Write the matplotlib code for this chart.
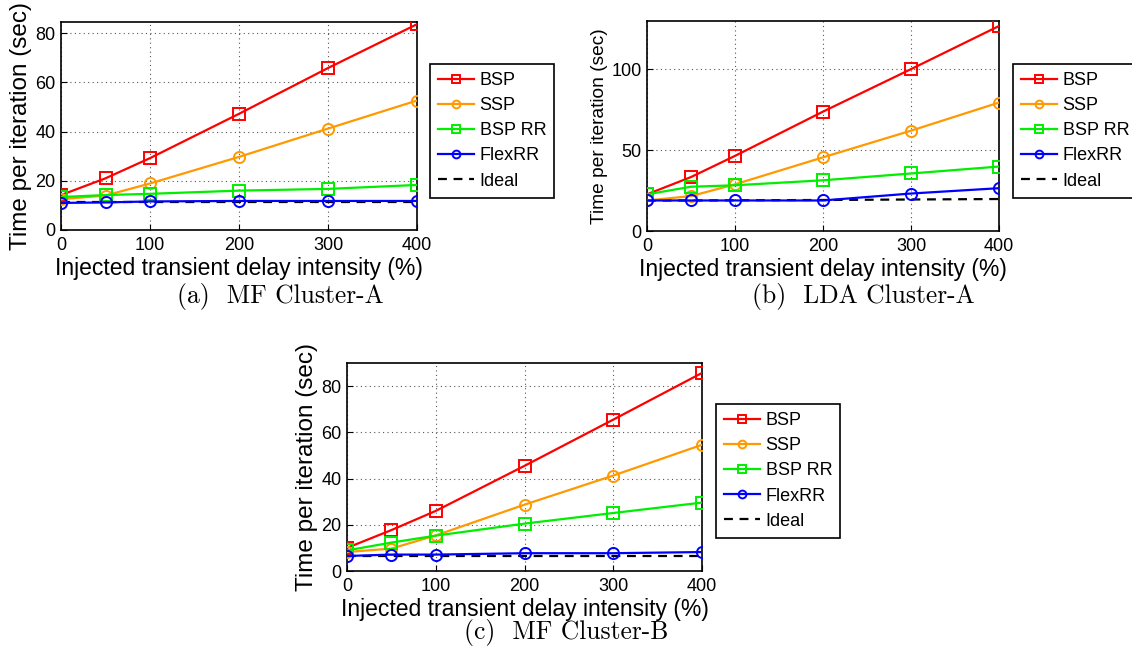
import numpy as np
import matplotlib.pyplot as plt

x = [0, 50, 100, 200, 300, 400]
names = ["BSP", "SSP", "BSP RR", "FlexRR", "Ideal"]

# (a) MF Cluster-A
a_bsp = [14.2, 21.0, 29.2, 47.2, 65.8, 83.6]
a_ssp = [12.5, 14.0, 18.9, 29.7, 41.2, 52.6]
a_bsprr = [13.4, 14.2, 14.7, 16.0, 16.7, 18.3]
a_flex = [11.0, 11.2, 11.6, 11.8, 11.8, 11.8]
a_ideal = [11.2, 11.2, 11.2, 11.2, 11.2, 11.2]

# (b) LDA Cluster-A
b_bsp = [22.7, 33.4, 46.5, 73.9, 100.2, 126.9]
b_ssp = [18.9, 21.6, 28.9, 45.6, 62.1, 79.5]
b_bsprr = [22.7, 27.4, 28.3, 31.4, 35.6, 39.9]
b_flex = [18.9, 18.9, 18.9, 18.9, 23.2, 26.5]
b_ideal = [18.9, 18.9, 19.0, 19.2, 19.5, 19.8]

# (c) MF Cluster-B
c_bsp = [10.0, 17.7, 26.0, 45.5, 65.5, 85.7]
c_ssp = [8.2, 9.7, 15.4, 28.7, 41.3, 54.6]
c_bsprr = [8.9, 12.3, 15.3, 20.5, 25.1, 29.6]
c_flex = [6.5, 7.1, 7.1, 7.7, 7.7, 8.2]
c_ideal = [6.6, 6.6, 6.6, 6.6, 6.6, 6.6]

colors = ["#ff0000", "#ff9900", "#00ee00", "#0000ff", "black"]
markers = ["s", "o", "s", "o", None]

plt.rcParams['font.family'] = ['Liberation Sans', 'DejaVu Sans']

fig = plt.figure(figsize=(11.32, 6.53), dpi=100)
W, H = 1132, 653


def panel(rect, series, ylim, yticks, ylab_size, legrect, caption, cap_xy):
    l, t, r, b = rect
    ax = fig.add_axes([l / W, 1 - b / H, (r - l) / W, (b - t) / H])
    for s, c, m, n in zip(series, colors, markers, names):
        if m is None:
            ax.plot(x, s, color=c, ls=(0, (4, 3)), lw=1.6, label=n, zorder=2)
        else:
            ax.plot(x, s, color=c, marker=m, mfc='none', mec=c, ms=8, mew=1.4,
                    lw=1.6, label=n, zorder=3)
    ax.set_xlim(0, 400)
    ax.set_ylim(*ylim)
    ax.set_xticks([0, 100, 200, 300, 400])
    ax.set_yticks(yticks)
    ax.tick_params(labelsize=13, direction='in', length=4)
    ax.tick_params(axis='x', pad=5)
    ax.tick_params(axis='y', pad=4)
    ax.grid(True, color='#555555', ls=(0, (1, 3)), lw=0.8)
    ax.set_xlabel("Injected transient delay intensity (%)", fontsize=16.5, labelpad=2)
    ax.set_ylabel("Time per iteration (sec)", fontsize=ylab_size, labelpad=2)
    for sp in ax.spines.values():
        sp.set_linewidth(1.2)
    ll, lt, lr, lb = legrect
    leg = ax.legend(loc='upper left', bbox_to_anchor=((ll - l) / (r - l), (b - lt) / (b - t)),
                    fontsize=13, frameon=True, fancybox=False, edgecolor='black',
                    framealpha=1, borderaxespad=0, markerscale=0.7, handlelength=2.0,
                    handletextpad=0.3, labelspacing=0.45, borderpad=0.45)
    leg.get_frame().set_linewidth(1.2)
    fig.text(cap_xy[0] / W, 1 - cap_xy[1] / H, caption, family='cmr10', fontsize=18.4,
             ha='center', va='center')
    return ax


panel((61, 22, 417, 230), [a_bsp, a_ssp, a_bsprr, a_flex, a_ideal], (0, 84.5),
      [0, 20, 40, 60, 80], 17.5, (430, 64, 552, 192), "(a)  MF Cluster-A", (280, 296))
panel((647, 21, 999, 231), [b_bsp, b_ssp, b_bsprr, b_flex, b_ideal], (0, 130),
      [0, 50, 100], 13.8, (1013, 64, 1132, 193), "(b)  LDA Cluster-A", (863, 296))
panel((347, 363, 702, 571), [c_bsp, c_ssp, c_bsprr, c_flex, c_ideal], (0, 90),
      [0, 20, 40, 60, 80], 17.5, (716, 404, 838, 534), "(c)  MF Cluster-B", (566, 632))

fig.savefig("out.png", dpi=100)
